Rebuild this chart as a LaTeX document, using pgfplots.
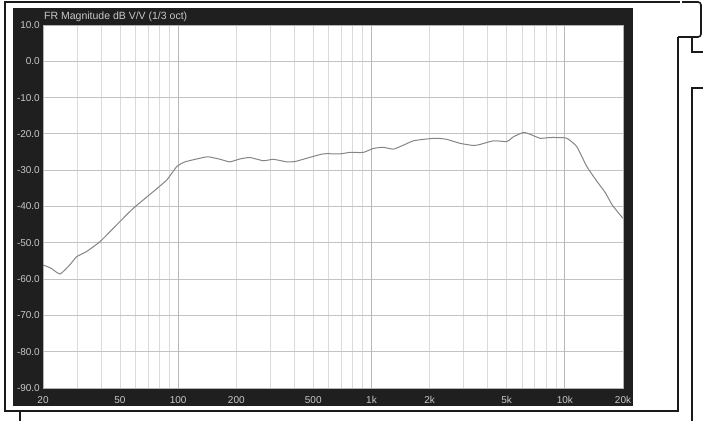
\documentclass[border=0pt]{standalone}
\usepackage{fontspec}
\setmainfont{Liberation Sans}
\usepackage{pgfplots}
\pgfplotsset{compat=1.18}

\definecolor{panel}{HTML}{1F1F1F}
\definecolor{labelgray}{HTML}{C8C8C8}
\definecolor{gridlight}{HTML}{DADADA}
\definecolor{griddark}{HTML}{B8B8B8}
\definecolor{curve}{HTML}{858585}
\definecolor{frameline}{HTML}{1A1A1A}

\begin{document}
\begin{tikzpicture}
% picture is 703 x 421 pt, y measured from bottom
\useasboundingbox (0pt,0pt) rectangle (703pt,421pt);
% outer window frame
\draw[frameline, line width=1.6pt] (680pt,419pt) -- (5pt,419pt) -- (5pt,10pt) -- (678pt,10pt) -- (678pt,384pt);
\draw[frameline, line width=1.6pt, rounded corners=3pt] (682pt,419pt) -- (701pt,419pt) -- (701pt,384pt) -- (678pt,384pt);
\draw[frameline, line width=1.6pt] (692pt,384pt) -- (692pt,369pt) -- (703pt,369pt);
\draw[frameline, line width=1.6pt] (703pt,333pt) -- (692pt,333pt) -- (692pt,0pt);
\draw[frameline, line width=1.6pt] (20pt,10pt) -- (20pt,0pt);
% dark panel of the plot window
\fill[panel] (13pt,15pt) rectangle (633pt,413pt);
\node[anchor=west, inner sep=0pt, text=labelgray, font=\fontsize{10.5}{12}\selectfont]
  at (44pt,404.5pt) {FR Magnitude dB V/V (1/3 oct)};

\begin{axis}[
    at={(43pt,33pt)}, anchor=south west,
    scale only axis, width=580pt, height=363pt,
    xmode=log, xmin=20, xmax=20000,
    ymin=-90, ymax=10,
    axis background/.style={fill=white},
    axis line style={draw=gray!60},
    xtick={20,50,100,200,500,1000,2000,5000,10000,20000},
    xticklabels={20,50,100,200,500,1k,2k,5k,10k,20k},
    minor xtick={30,40,60,70,80,90,300,400,600,700,800,900,3000,4000,6000,7000,8000,9000},
    extra x ticks={100,1000,10000},
    extra x tick labels={},
    extra x tick style={grid=major, major grid style={griddark, line width=0.9pt}},
    ytick={-90,-80,...,10},
    yticklabels={-90.0,-80.0,-70.0,-60.0,-50.0,-40.0,-30.0,-20.0,-10.0,0.0,10.0},
    major tick length=0pt, minor tick length=0pt,
    grid=both,
    major grid style={gridlight, line width=0.8pt},
    minor grid style={gridlight, line width=0.8pt},
    y grid style={griddark!85, line width=0.9pt},
    tick label style={text=labelgray, font=\fontsize{10}{11}\selectfont},
    xticklabel style={inner sep=0pt, yshift=-8pt},
    yticklabel style={inner sep=0pt, xshift=-3pt},
    clip=true,
]
\addplot[curve, line width=1pt, smooth, tension=0.3] coordinates {
(20,-56.1) (22,-57.0) (24.5,-58.6) (27.6,-56.0) (29.9,-53.8) (33.6,-52.4)
(39.4,-49.7) (48,-45.1) (58.6,-40.5) (74.4,-35.9) (87.3,-32.7) (98.4,-29.0)
(108.6,-27.7) (129.9,-26.7) (143,-26.3) (165,-27.0) (185,-27.7) (209,-26.9)
(235,-26.5) (276,-27.4) (311,-27.0) (364,-27.7) (403,-27.6) (463,-26.7)
(564,-25.5) (688,-25.5) (774,-25.1) (907,-25.1) (1023,-24.0) (1152,-23.7)
(1297,-24.2) (1462,-23.1) (1648,-21.9) (1932,-21.4) (2177,-21.2) (2451,-21.5)
(2873,-22.6) (3367,-23.2) (3646,-22.9) (4276,-21.9) (5012,-22.1) (5424,-20.8)
(6109,-19.6) (6610,-20.1) (7447,-21.2) (8390,-21.0) (9079,-21.0) (10240,-21.2)
(11530,-23.5) (13000,-29.0) (14630,-33.0) (16200,-36.2) (17600,-39.6) (19950,-43.2)
};
\end{axis}
\end{tikzpicture}
\end{document}
